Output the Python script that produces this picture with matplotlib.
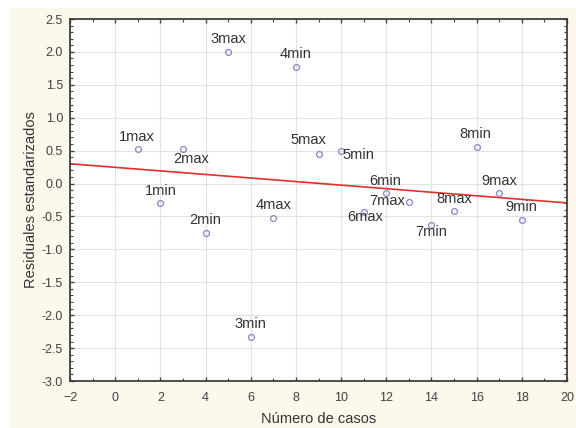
import numpy as np
import matplotlib
matplotlib.use("Agg")
from matplotlib import pyplot as plt
from matplotlib.patches import Rectangle
from matplotlib.ticker import MultipleLocator

plt.rcParams['font.family'] = ['Liberation Sans', 'DejaVu Sans']

# residuos por caso
casos = [1, 2, 3, 4, 5, 6, 7, 8, 9, 10, 11, 12, 13, 14, 15, 16, 17, 18]
residuos = [0.53, -0.30, 0.53, -0.75, 2.00, -2.33, -0.53, 1.77, 0.45,
            0.50, -0.43, -0.15, -0.28, -0.63, -0.42, 0.55, -0.15, -0.55]
etiquetas = ['1max', '1min', '2max', '2min', '3max', '3min', '4max', '4min', '5max',
             '5min', '6max', '6min', '7max', '7min', '8max', '8min', '9max', '9min']

# desplazamiento del texto (pixeles) y alineacion horizontal
offsets = {
    '1max': (-1, 12, 'center'), '1min': (0, 12, 'center'),
    '2max': (8, -10, 'center'), '2min': (0, 13, 'center'),
    '3max': (0, 13, 'center'), '3min': (0, 13, 'center'),
    '4max': (0, 13, 'center'), '4min': (0, 13, 'center'),
    '5max': (-10, 14, 'center'), '5min': (1, -4, 'left'),
    '6max': (2, -5, 'center'), '6min': (-1, 12, 'center'),
    '7max': (-4, 1, 'right'), '7min': (0, -7, 'center'),
    '8max': (0, 12, 'center'), '8min': (-1, 13, 'center'),
    '9max': (0, 12, 'center'), '9min': (-1, 13, 'center'),
}

fig = plt.figure(figsize=(5.76, 4.28), dpi=100, facecolor='white')
fig.patches.append(Rectangle((10 / 576, 0), 1, 1 - 8 / 428, transform=fig.transFigure,
                             facecolor='#fdf8ec', edgecolor='none', zorder=-5))
ax = fig.add_axes([70 / 576, 1 - 381 / 428, 497 / 576, 362 / 428])
ax.set_zorder(1)
ax.set_facecolor('white')

ax.plot(casos, residuos, ls='none', marker='o', ms=4.2, mfc='none',
        mec='#8585c8', mew=0.9, zorder=3)

# recta de regresion
pend, orde = np.polyfit(casos, residuos, 1)
xs = np.array([-2, 20])
ax.plot(xs, pend * xs + orde, color='#e0302a', lw=1.2, zorder=2)

for x, y, lab in zip(casos, residuos, etiquetas):
    dx, dy, ha = offsets[lab]
    ax.annotate(lab, xy=(x, y), xytext=(dx, dy), textcoords='offset pixels',
                ha=ha, va='center', fontsize=10.5, color='#333333', zorder=4)

ax.set_xlim(-2, 20)
ax.set_ylim(-3.0, 2.5)
ax.xaxis.set_major_locator(MultipleLocator(2))
ax.xaxis.set_minor_locator(MultipleLocator(1))
ax.yaxis.set_major_locator(MultipleLocator(0.5))
ax.yaxis.set_minor_locator(MultipleLocator(0.1))
ax.yaxis.set_major_formatter(matplotlib.ticker.FormatStrFormatter('%.1f'))
ax.grid(True, which='major', color='#e2e2e2', lw=0.8)
ax.set_axisbelow(True)

ax.tick_params(which='both', direction='in', top=True, right=True,
               colors='#444444', labelcolor='#404040', labelsize=9)
ax.tick_params(which='major', length=3, width=1)
ax.tick_params(axis='x', which='major', pad=8)
ax.tick_params(axis='y', which='major', pad=5)
ax.tick_params(which='minor', length=2, width=0.8)
for s in ax.spines.values():
    s.set_color('#404040')
    s.set_linewidth(1.3)

ax.set_xlabel('Número de casos', fontsize=10.5, color='#333333', labelpad=6)
ax.set_ylabel('Residuales estandarizados', fontsize=10.5, color='#333333', labelpad=3)

fig.savefig('out.png', dpi=100, facecolor=fig.get_facecolor())
